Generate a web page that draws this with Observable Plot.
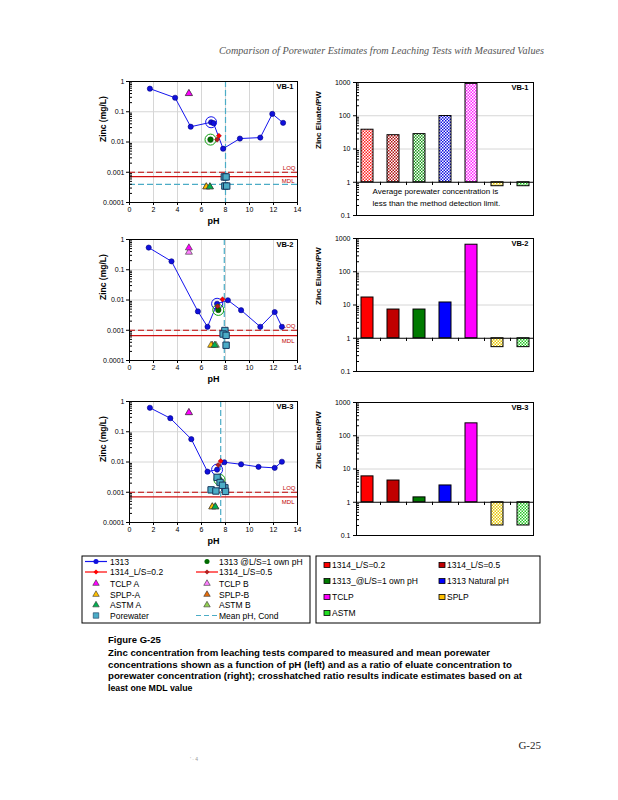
<!DOCTYPE html>
<html><head><meta charset="utf-8">
<script src="https://cdn.jsdelivr.net/npm/d3@7"></script>
<script src="https://cdn.jsdelivr.net/npm/@observablehq/plot@0.6"></script>
<style>
html,body{margin:0;padding:0;background:#fff;}
#page{position:relative;width:618px;height:800px;overflow:hidden;background:#fff;}
.pane{position:absolute;}
.pane svg{overflow:visible;display:block;}
</style></head><body><div id="page"></div>
<script>
// ---------- DATA ----------
const headerText = "Comparison of Porewater Estimates from Leaching Tests with Measured Values";
const figTitle = "Figure G-25";
const captionLines = [
  "Zinc concentration from leaching tests compared to measured and mean porewater",
  "concentrations shown as a function of pH (left) and as a ratio of eluate concentration to",
  "porewater concentration (right); crosshatched ratio results indicate estimates based on at",
  "least one MDL value"
];
const pageLabel = "G-25";
const panelNames = ["VB-1", "VB-2", "VB-3"];
const xTicks = [0, 2, 4, 6, 8, 10, 12, 14];
const yTicksLeft = [0.0001, 0.001, 0.01, 0.1, 1];
const yTicksRight = [0.1, 1, 10, 100, 1000];

// VB-1 (left): Zn (mg/L) vs pH
const vb1_1313_pH = [1.7, 3.8, 5.1, 6.8, 7.0, 7.8, 9.2, 10.9, 11.9, 12.8];
const vb1_1313_zn = [0.58, 0.29, 0.032, 0.045, 0.042, 0.006, 0.013, 0.014, 0.085, 0.043];
const vb1_natural = [6.8, 0.045];
const vb1_ownPH = [6.75, 0.012];
const vb1_1314_02 = [7.45, 0.016];
const vb1_1314_05 = [7.3, 0.012];
const vb1_tclpA = [4.95, 0.4], vb1_tclpB = [4.95, 0.4];
const vb1_splpA = [6.4, 0.00033], vb1_splpB = [6.4, 0.00033];
const vb1_astmA = [6.7, 0.00033], vb1_astmB = [6.7, 0.00033];
const vb1_pw_pH = [7.9, 8.05, 7.95, 8.1];
const vb1_pw_zn = [0.0007, 0.0007, 0.00035, 0.00035];
const vb1_meanPH = 8.0, vb1_loq = 0.001, vb1_mdl = 0.00072, vb1_pwMean = 0.0004;

// VB-2 (left)
const vb2_1313_pH = [1.6, 3.5, 5.7, 6.5, 7.3, 8.2, 9.3, 10.9, 12.1, 12.7];
const vb2_1313_zn = [0.54, 0.19, 0.0042, 0.0013, 0.0075, 0.0098, 0.0046, 0.0013, 0.004, 0.0013];
const vb2_natural = [7.3, 0.0075];
const vb2_ownPH = [7.4, 0.0047];
const vb2_1314_02 = [7.75, 0.0105];
const vb2_1314_05 = [7.35, 0.0062];
const vb2_tclpA = [4.95, 0.53], vb2_tclpB = [4.95, 0.38];
const vb2_splpA = [6.8, 0.00032], vb2_splpB = [6.9, 0.00032];
const vb2_astmA = [7.1, 0.00032], vb2_astmB = [7.2, 0.00032];
const vb2_pw_pH = [7.95, 7.8, 8.05, 8.05];
const vb2_pw_zn = [0.00098, 0.00075, 0.00068, 0.00032];
const vb2_meanPH = 7.9, vb2_loq = 0.001, vb2_mdl = 0.00066, vb2_pwMean = null;

// VB-3 (left)
const vb3_1313_pH = [1.7, 3.4, 5.15, 6.5, 7.3, 7.9, 9.3, 10.75, 12.1, 12.7];
const vb3_1313_zn = [0.62, 0.28, 0.057, 0.0048, 0.0056, 0.0098, 0.0084, 0.0069, 0.0064, 0.0102];
const vb3_natural = [7.3, 0.0056];
const vb3_ownPH = [7.5, 0.0026];
const vb3_1314_02 = [7.6, 0.0107];
const vb3_1314_05 = [7.4, 0.008];
const vb3_tclpA = [4.95, 0.43], vb3_tclpB = [4.95, 0.43];
const vb3_splpA = [6.9, 0.00033], vb3_splpB = [6.9, 0.00033];
const vb3_astmA = [7.15, 0.00033], vb3_astmB = [7.15, 0.00033];
const vb3_pw_pH = [7.3, 7.55, 6.8, 7.2, 7.95, 8.0, 7.75];
const vb3_pw_zn = [0.0031, 0.0021, 0.0012, 0.0011, 0.0014, 0.00107, 0.0017];
const vb3_meanPH = 7.6, vb3_loq = 0.001, vb3_mdl = 0.0007, vb3_pwMean = null;

// Right: Zinc eluate / porewater ratio
const ratioCategories = ["1314_L/S=0.2", "1314_L/S=0.5", "1313_@L/S=1 own pH", "1313 Natural pH", "TCLP", "SPLP", "ASTM"];
const vb1_ratio = [38, 26, 28, 98, 910, 0.76, 0.76];
const vb2_ratio = [16.8, 7.3, 7.3, 11.9, 650, 0.54, 0.54];
const vb3_ratio = [6.0, 4.5, 1.4, 3.2, 236, 0.2, 0.2];
const vb1_hatched = [true, true, true, true, true, true, true];
const vb2_hatched = [false, false, false, false, false, true, true];
const vb3_hatched = [false, false, false, false, false, true, true];
const vb1_note = ["Average porewater concentration is", "less than the method detection limit."];

const legendLeftLabels = ["1313", "1313 @L/S=1 own pH", "1314_L/S=0.2", "1314_L/S=0.5", "TCLP A", "TCLP B",
  "SPLP-A", "SPLP-B", "ASTM A", "ASTM B", "Porewater", "Mean pH, Cond"];
const legendRightLabels = ["1314_L/S=0.2", "1314_L/S=0.5", "1313_@L/S=1 own pH", "1313 Natural pH", "TCLP", "SPLP", "ASTM"];

// ---------- STYLE ----------
const FONT = "'Liberation Sans', Arial, Helvetica, sans-serif";
const barColors = ["#ff0000", "#c00000", "#007a00", "#0000ff", "#ff00ff", "#ffc000", "#22dd22"];
const hatchColors = ["#ff2020", "#b01010", "#1a9a1a", "#1010e0", "#ff20ff", "#e8c800", "#20c820"];
const C = {blue:"#1515ee", grid:"#d6d6d6", red:"#c00000", teal:"#4bacc6",
  tclpA:"#ff00ff", tclpB:"#ff7fff", splpA:"#ffc000", splpB:"#e46c0a", astmA:"#00b050", astmB:"#92d050"};

const panelsLeft = [
  {name:"VB-1", pH:vb1_1313_pH, zn:vb1_1313_zn, nat:vb1_natural, own:vb1_ownPH, l02:vb1_1314_02, l05:vb1_1314_05,
   tclpA:vb1_tclpA, tclpB:vb1_tclpB, splpA:vb1_splpA, splpB:vb1_splpB, astmA:vb1_astmA, astmB:vb1_astmB,
   pwPH:vb1_pw_pH, pwZn:vb1_pw_zn, meanPH:vb1_meanPH, loq:vb1_loq, mdl:vb1_mdl, pwMean:vb1_pwMean},
  {name:"VB-2", pH:vb2_1313_pH, zn:vb2_1313_zn, nat:vb2_natural, own:vb2_ownPH, l02:vb2_1314_02, l05:vb2_1314_05,
   tclpA:vb2_tclpA, tclpB:vb2_tclpB, splpA:vb2_splpA, splpB:vb2_splpB, astmA:vb2_astmA, astmB:vb2_astmB,
   pwPH:vb2_pw_pH, pwZn:vb2_pw_zn, meanPH:vb2_meanPH, loq:vb2_loq, mdl:vb2_mdl, pwMean:vb2_pwMean},
  {name:"VB-3", pH:vb3_1313_pH, zn:vb3_1313_zn, nat:vb3_natural, own:vb3_ownPH, l02:vb3_1314_02, l05:vb3_1314_05,
   tclpA:vb3_tclpA, tclpB:vb3_tclpB, splpA:vb3_splpA, splpB:vb3_splpB, astmA:vb3_astmA, astmB:vb3_astmB,
   pwPH:vb3_pw_pH, pwZn:vb3_pw_zn, meanPH:vb3_meanPH, loq:vb3_loq, mdl:vb3_mdl, pwMean:vb3_pwMean}
];
const panelsRight = [
  {name:"VB-1", ratio:vb1_ratio, hatched:vb1_hatched, note:vb1_note},
  {name:"VB-2", ratio:vb2_ratio, hatched:vb2_hatched, note:null},
  {name:"VB-3", ratio:vb3_ratio, hatched:vb3_hatched, note:null}
];

function minorTicks(e0, e1) { const out = []; for (let e = e0; e < e1; e++) for (let k = 2; k <= 9; k++) out.push(+(k * Math.pow(10, e)).toPrecision(3)); return out; }
const minorLeft = minorTicks(-4, 0);
const minorRight = minorTicks(-1, 3);
const px = d => d[0], py = d => d[1];

const page = d3.select("#page");
const ov = page.append("svg").attr("width", 618).attr("height", 800)
  .style("position", "absolute").style("left", "0px").style("top", "0px");

// hatch patterns
const defs = ov.append("defs");
hatchColors.forEach((c, i) => {
  const p = defs.append("pattern").attr("id", "hatch" + i).attr("width", 3).attr("height", 3).attr("patternUnits", "userSpaceOnUse");
  p.append("rect").attr("width", 3).attr("height", 3).attr("fill", "#fff");
  p.append("rect").attr("x", 0).attr("y", 0).attr("width", 1.5).attr("height", 1.5).attr("fill", c);
  p.append("rect").attr("x", 1.5).attr("y", 1.5).attr("width", 1.5).attr("height", 1.5).attr("fill", c);
});

function leftPlot(p) {
  const pts = p.pH.map((x, i) => ({x, y: p.zn[i]}));
  const pw = p.pwPH.map((x, i) => ({x, y: p.pwZn[i]}));
  const tri = {r: 2.6, symbol: "triangle", stroke: "#333", strokeWidth: 0.6};
  const dia = {r: 2.3, symbol: "diamond2", strokeWidth: 0.5};
  const marks = [
    Plot.ruleY(yTicksLeft, {stroke: C.grid}),
    Plot.ruleX(xTicks, {stroke: C.grid}),
    Plot.ruleY([p.loq], {stroke: C.red, strokeDasharray: "6,3", strokeWidth: 1.2}),
    Plot.ruleY([p.mdl], {stroke: "#d01010", strokeWidth: 1.2})
  ];
  if (p.pwMean) marks.push(Plot.ruleY([p.pwMean], {stroke: C.teal, strokeDasharray: "6,3", strokeWidth: 1.2}));
  marks.push(
    Plot.ruleX([p.meanPH], {stroke: C.teal, strokeDasharray: "6,3", strokeWidth: 1.2}),
    Plot.text(["LOQ"], {x: 14, y: p.loq, text: d => d, textAnchor: "end", dx: -2, dy: -4, fill: C.red, fontSize: 6}),
    Plot.text(["MDL"], {x: 14, y: p.mdl, text: d => d, textAnchor: "end", dx: -3, dy: 5, fill: C.red, fontSize: 6}),
    Plot.line(pts, {x: "x", y: "y", stroke: C.blue, strokeWidth: 1}),
    Plot.dot(pts, {x: "x", y: "y", r: 2.6, fill: "#1010dd", stroke: "#000080", strokeWidth: 0.6}),
    Plot.dot([p.nat], {x: px, y: py, r: 5.5, fill: "none", stroke: C.blue, strokeWidth: 1}),
    Plot.dot([p.own], {x: px, y: py, r: 5.5, fill: "none", stroke: "#10a010", strokeWidth: 1}),
    Plot.dot([p.own], {x: px, y: py, r: 2.8, fill: "#006a00", stroke: "#004000", strokeWidth: 0.5}),
    Plot.dot([p.l05], {x: px, y: py, ...dia, fill: "#b02020", stroke: "#700000"}),
    Plot.dot([p.l02], {x: px, y: py, ...dia, fill: "#ff0000", stroke: "#a00000"}),
    Plot.dot([p.tclpB], {x: px, y: py, ...tri, fill: C.tclpB}),
    Plot.dot([p.tclpA], {x: px, y: py, ...tri, fill: C.tclpA}),
    Plot.dot([p.splpB], {x: px, y: py, ...tri, fill: C.splpB}),
    Plot.dot([p.splpA], {x: px, y: py, ...tri, fill: C.splpA}),
    Plot.dot([p.astmB], {x: px, y: py, ...tri, fill: C.astmB}),
    Plot.dot([p.astmA], {x: px, y: py, ...tri, fill: C.astmA}),
    Plot.dot(pw, {x: "x", y: "y", r: 3.6, symbol: "square", fill: C.teal, stroke: "#17375e", strokeWidth: 1}),
    Plot.frame({stroke: "#000"}),
    Plot.axisX(xTicks, {anchor: "bottom", tickSize: 3, tickPadding: 2, label: null, fontSize: 7}),
    Plot.axisY(yTicksLeft, {anchor: "left", tickSize: 3, tickPadding: 2, tickFormat: d => String(d), label: null, fontSize: 7}),
    Plot.ruleY(minorLeft, {insetRight: 165, stroke: "#000"}),
    Plot.text(["pH"], {frameAnchor: "bottom", dy: 21, fontSize: 9, fontWeight: "bold", text: d => d}),
    Plot.text(["Zinc (mg/L)"], {frameAnchor: "left", dx: -26, rotate: -90, fontSize: 8.5, fontWeight: "bold", text: d => d}),
    Plot.text([p.name], {frameAnchor: "top-right", dx: -4, dy: 2, lineAnchor: "top", textAnchor: "end", fontSize: 7.5, fontWeight: "bold", text: d => d})
  );
  return Plot.plot({
    width: 230, height: 170, marginLeft: 49, marginRight: 13, marginTop: 11, marginBottom: 38,
    style: {fontFamily: FONT, fontSize: "7px", background: "transparent", color: "#000", overflow: "visible"},
    x: {domain: [0, 14]},
    y: {type: "log", domain: [0.0001, 1]},
    marks
  });
}

function rightPlot(p) {
  const rows = ratioCategories.map((c, i) => ({c, v: p.ratio[i], fill: p.hatched[i] ? `url(#hatch${i})` : barColors[i]}));
  const marks = [
    Plot.ruleY([10, 100], {stroke: C.grid}),
    Plot.barY(rows, {x: "c", y1: 1, y2: "v", fill: "fill", stroke: "#000", strokeWidth: 1}),
    Plot.ruleY([1], {stroke: "#000"}),
    Plot.ruleX(ratioCategories.slice(0, 6), {x: d => d, y1: 1, y2: 0.8, dx: 13, stroke: "#000"}),
    Plot.frame({stroke: "#000"}),
    Plot.axisY(yTicksRight, {anchor: "left", tickSize: 3, tickPadding: 3, tickFormat: d => String(d), label: null, fontSize: 7}),
    Plot.ruleY(minorRight, {insetRight: 174, stroke: "#000"}),
    Plot.text(["Zinc Eluate/PW"], {frameAnchor: "left", dx: -38, rotate: -90, fontSize: 8, fontWeight: "bold", text: d => d}),
    Plot.text([p.name], {frameAnchor: "top-right", dx: -5, dy: 2, lineAnchor: "top", textAnchor: "end", fontSize: 7.5, fontWeight: "bold", text: d => d})
  ];
  if (p.note) {
    marks.push(Plot.text([p.note[0]], {frameAnchor: "bottom-left", dx: 16, dy: -22, textAnchor: "start", fontSize: 8, text: d => d}));
    marks.push(Plot.text([p.note[1]], {frameAnchor: "bottom-left", dx: 16, dy: -10, textAnchor: "start", fontSize: 8, text: d => d}));
  }
  return Plot.plot({
    width: 230, height: 153, marginLeft: 46, marginRight: 7, marginTop: 10, marginBottom: 10,
    style: {fontFamily: FONT, fontSize: "7px", background: "transparent", color: "#000", overflow: "visible"},
    x: {domain: ratioCategories, paddingInner: 0.55, paddingOuter: 0.17, axis: null},
    y: {type: "log", domain: [0.1, 1000]},
    color: {type: "identity"},
    marks
  });
}

const leftTops = [70, 228, 390];
const rightTops = [72, 228, 392];
panelsLeft.forEach((p, i) => {
  page.append("div").attr("class", "pane").style("left", "80px").style("top", leftTops[i] + "px").node().appendChild(leftPlot(p));
});
panelsRight.forEach((p, i) => {
  page.append("div").attr("class", "pane").style("left", "310px").style("top", rightTops[i] + "px").node().appendChild(rightPlot(p));
});

// ---------- header / caption ----------
ov.append("text").attr("x", 219).attr("y", 54).attr("textLength", 325).attr("lengthAdjust", "spacingAndGlyphs")
  .attr("fill", "#555").style("font", "italic 10px 'Liberation Serif', 'Times New Roman', serif").text(headerText);
ov.append("text").attr("x", 108).attr("y", 643).style("font", `bold 9.5px ${FONT}`).attr("fill", "#000").text(figTitle);
const capEnds = [490, 512, 522, null];
captionLines.forEach((t, i) => {
  const el = ov.append("text").attr("x", 108).attr("y", 656 + i * 11.5).style("font", `bold 8.8px ${FONT}`).attr("fill", "#000").text(t);
  if (capEnds[i]) el.attr("textLength", capEnds[i] - 108).attr("lengthAdjust", "spacingAndGlyphs");
});
ov.append("text").attr("x", 541).attr("y", 749).attr("text-anchor", "end").style("font", "11px 'Liberation Serif', serif").attr("fill", "#222").text(pageLabel);
ov.append("text").attr("x", 190).attr("y", 761).style("font", `5px ${FONT}`).attr("fill", "#999").text("\u2019  \u00b7 4");

// ---------- legends ----------
const LF = `8.5px ${FONT}`;
const gl = ov.append("g");
gl.append("rect").attr("x", 82).attr("y", 556).attr("width", 228).attr("height", 67).attr("fill", "none").attr("stroke", "#000").attr("stroke-width", 1);
const rowsL = [561.5, 572, 583.5, 594.5, 605, 615.5];
const colL = [{m: 96, t: 110}, {m: 207, t: 219}];
const sym = (type, size) => d3.symbol(type, size)();
const legendStyles = [
  {line: C.blue, dot: "#1010dd", shape: d3.symbolCircle, size: 20},
  {dot: "#006a00", shape: d3.symbolCircle, size: 20},
  {line: "#ff0000", dot: "#ff0000", shape: d3.symbolDiamond2, size: 16},
  {line: "#ff0000", dot: "#b02020", shape: d3.symbolDiamond2, size: 16},
  {dot: C.tclpA, shape: d3.symbolTriangle, size: 18, stroke: "#333"},
  {dot: C.tclpB, shape: d3.symbolTriangle, size: 18, stroke: "#333"},
  {dot: C.splpA, shape: d3.symbolTriangle, size: 18, stroke: "#333"},
  {dot: C.splpB, shape: d3.symbolTriangle, size: 18, stroke: "#333"},
  {dot: C.astmA, shape: d3.symbolTriangle, size: 18, stroke: "#333"},
  {dot: C.astmB, shape: d3.symbolTriangle, size: 18, stroke: "#333"},
  {dot: C.teal, shape: d3.symbolSquare, size: 30, stroke: "#17375e"},
  {dash: C.teal}
];
legendLeftLabels.forEach((lab, i) => {
  const col = colL[i % 2], y = rowsL[Math.floor(i / 2)], s = legendStyles[i];
  if (s.line) gl.append("line").attr("x1", col.m - 11).attr("x2", col.m + 11).attr("y1", y).attr("y2", y).attr("stroke", s.line).attr("stroke-width", 1.2);
  if (s.dash) gl.append("line").attr("x1", col.m - 11).attr("x2", col.m + 11).attr("y1", y).attr("y2", y).attr("stroke", s.dash).attr("stroke-width", 1.2).attr("stroke-dasharray", "5,3");
  if (s.shape) gl.append("path").attr("d", sym(s.shape, s.size)).attr("transform", `translate(${col.m},${y})`).attr("fill", s.dot).attr("stroke", s.stroke || "none").attr("stroke-width", 0.6);
  gl.append("text").attr("x", col.t).attr("y", y + 3).style("font", LF).attr("fill", "#000").text(lab);
});

const gr = ov.append("g");
gr.append("rect").attr("x", 316).attr("y", 556).attr("width", 224).attr("height", 67).attr("fill", "none").attr("stroke", "#000").attr("stroke-width", 1);
const rowsR = [565, 581, 597, 613];
const colR = [{m: 327, t: 332}, {m: 442, t: 447}];
legendRightLabels.forEach((lab, i) => {
  const col = colR[i % 2], y = rowsR[Math.floor(i / 2)];
  gr.append("rect").attr("x", col.m - 3).attr("y", y - 2.5).attr("width", 6).attr("height", 5).attr("fill", barColors[i]).attr("stroke", "#000").attr("stroke-width", 0.8);
  gr.append("text").attr("x", col.t).attr("y", y + 3).style("font", LF).attr("fill", "#000").text(lab);
});
</script></body></html>
